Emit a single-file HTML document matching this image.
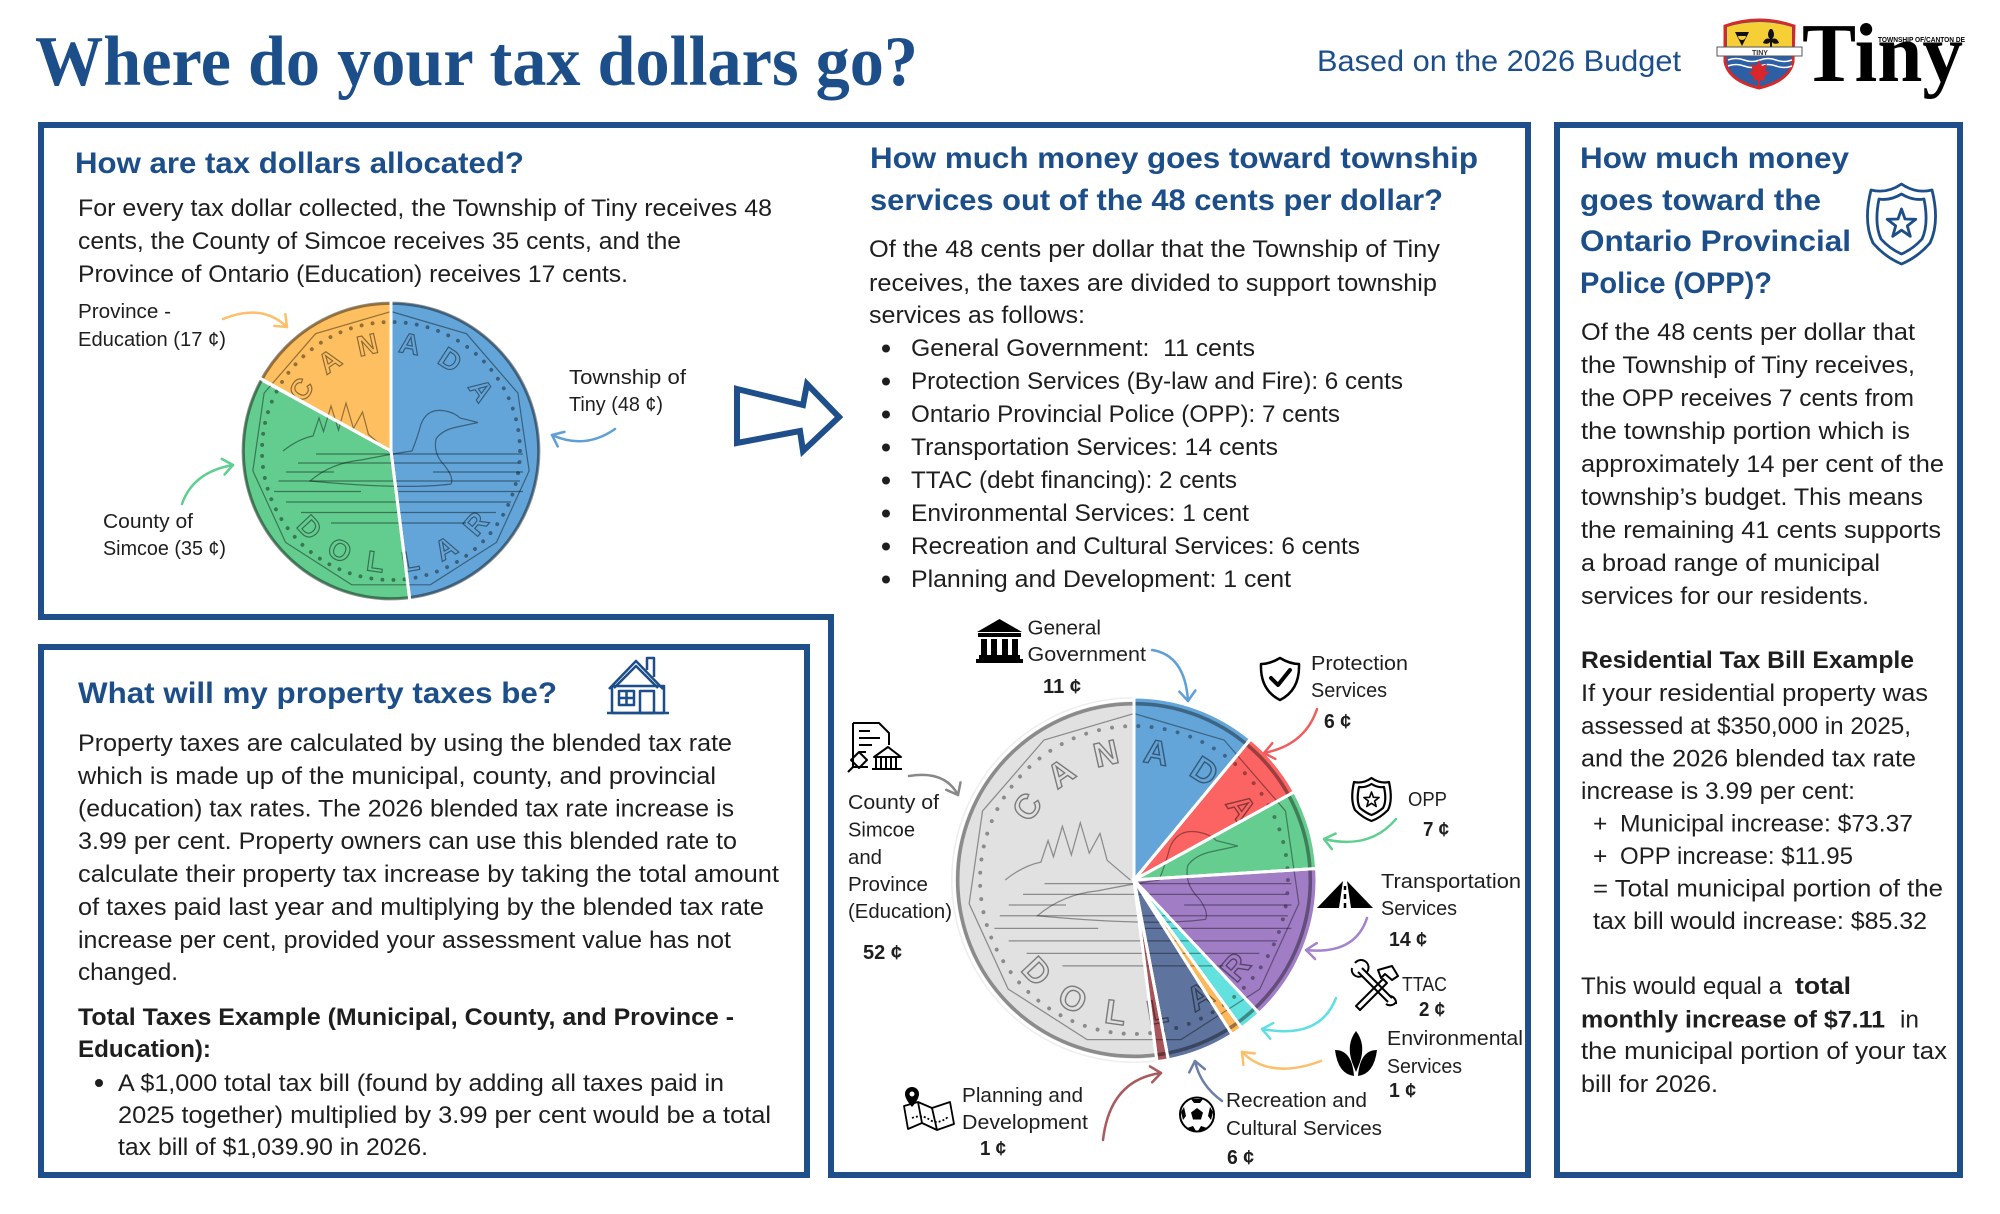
<!DOCTYPE html>
<html><head><meta charset="utf-8"><style>
html,body{margin:0;padding:0;background:#fff;}
svg{display:block;}
.b{font-family:"Liberation Sans",sans-serif;font-size:24.5px;fill:#1e1e1e;}
.bb{font-family:"Liberation Sans",sans-serif;font-size:24.5px;font-weight:bold;fill:#1e1e1e;}
.h{font-family:"Liberation Sans",sans-serif;font-size:29.5px;font-weight:bold;fill:#1c4e8a;}
.l{font-family:"Liberation Sans",sans-serif;font-size:20.5px;fill:#1e1e1e;}
.lb{font-family:"Liberation Sans",sans-serif;font-size:20.5px;font-weight:bold;fill:#1e1e1e;}
.cl{font-family:"Liberation Sans",sans-serif;font-size:19px;font-weight:bold;fill:none;stroke:#000;stroke-opacity:.45;stroke-width:.8;}
</style></head><body>
<svg width="2000" height="1214" viewBox="0 0 2000 1214" xmlns="http://www.w3.org/2000/svg">
<defs>
<marker id="m-blue" viewBox="-12 -12 24 24" markerWidth="24" markerHeight="24" markerUnits="userSpaceOnUse" orient="auto"><path d="M-10,-8 L0,0 L-10,8" fill="none" stroke="#5ea0d6" stroke-width="2.5" stroke-linecap="round" stroke-linejoin="round"/></marker>
<marker id="m-red" viewBox="-12 -12 24 24" markerWidth="24" markerHeight="24" markerUnits="userSpaceOnUse" orient="auto"><path d="M-10,-8 L0,0 L-10,8" fill="none" stroke="#f25c5c" stroke-width="2.5" stroke-linecap="round" stroke-linejoin="round"/></marker>
<marker id="m-green" viewBox="-12 -12 24 24" markerWidth="24" markerHeight="24" markerUnits="userSpaceOnUse" orient="auto"><path d="M-10,-8 L0,0 L-10,8" fill="none" stroke="#5fcf8f" stroke-width="2.5" stroke-linecap="round" stroke-linejoin="round"/></marker>
<marker id="m-purple" viewBox="-12 -12 24 24" markerWidth="24" markerHeight="24" markerUnits="userSpaceOnUse" orient="auto"><path d="M-10,-8 L0,0 L-10,8" fill="none" stroke="#a283cc" stroke-width="2.5" stroke-linecap="round" stroke-linejoin="round"/></marker>
<marker id="m-cyan" viewBox="-12 -12 24 24" markerWidth="24" markerHeight="24" markerUnits="userSpaceOnUse" orient="auto"><path d="M-10,-8 L0,0 L-10,8" fill="none" stroke="#5fdfe3" stroke-width="2.5" stroke-linecap="round" stroke-linejoin="round"/></marker>
<marker id="m-orange" viewBox="-12 -12 24 24" markerWidth="24" markerHeight="24" markerUnits="userSpaceOnUse" orient="auto"><path d="M-10,-8 L0,0 L-10,8" fill="none" stroke="#fdbf6a" stroke-width="2.5" stroke-linecap="round" stroke-linejoin="round"/></marker>
<marker id="m-navy" viewBox="-12 -12 24 24" markerWidth="24" markerHeight="24" markerUnits="userSpaceOnUse" orient="auto"><path d="M-10,-8 L0,0 L-10,8" fill="none" stroke="#6c7fa8" stroke-width="2.5" stroke-linecap="round" stroke-linejoin="round"/></marker>
<marker id="m-dred" viewBox="-12 -12 24 24" markerWidth="24" markerHeight="24" markerUnits="userSpaceOnUse" orient="auto"><path d="M-10,-8 L0,0 L-10,8" fill="none" stroke="#a85a5e" stroke-width="2.5" stroke-linecap="round" stroke-linejoin="round"/></marker>
<marker id="m-gray" viewBox="-12 -12 24 24" markerWidth="24" markerHeight="24" markerUnits="userSpaceOnUse" orient="auto"><path d="M-10,-8 L0,0 L-10,8" fill="none" stroke="#888" stroke-width="2.5" stroke-linecap="round" stroke-linejoin="round"/></marker>
<clipPath id="c1"><circle cx="391" cy="451" r="150"/></clipPath>
<clipPath id="c2"><circle cx="1134" cy="880" r="183"/></clipPath>
</defs>

<!-- TITLE -->
<text x="35" y="85" textLength="883" lengthAdjust="spacingAndGlyphs" style="font-family:'Liberation Serif',serif;font-size:71px;font-weight:bold;fill:#1c4e8a;">Where do your tax dollars go?</text>
<text x="1317" y="71" textLength="364" lengthAdjust="spacingAndGlyphs" style="font-family:'Liberation Sans',sans-serif;font-size:29.5px;fill:#1c4e8a;">Based on the 2026 Budget</text>

<!-- Crest -->
<g>
<path d="M1725,26 Q1759,14 1794,26 L1793,62 Q1789,81 1759,88 Q1729,81 1725,62 Z" fill="#2c5fa3" stroke="#d42a2a" stroke-width="3"/>
<path d="M1727,27 Q1759,17 1792,27 L1792,50 L1727,50 Z" fill="#f5cf35"/>
<path d="M1735,32 L1749,32 L1742,46 Z M1738,36 a4,4 0 1 0 8,0" fill="#111"/>
<path d="M1772,29 q4,6 0,10 q5,-2 7,4 q-5,2 -7,-1 l0,7 l-2,0 l0,-7 q-2,3 -7,1 q2,-6 7,-4 q-4,-4 0,-10z" fill="#111"/>
<rect x="1717" y="47" width="85" height="9" fill="#fff" stroke="#555" stroke-width="1"/>
<text x="1752" y="55" style="font-family:'Liberation Sans',sans-serif;font-size:7px;font-weight:bold;fill:#333;">TINY</text>
<path d="M1728,60 q8,-3 16,0 t16,0 t16,0 t16,0 M1728,66 q8,-3 16,0 t16,0 t16,0 t16,0" stroke="#fff" stroke-width="1.5" fill="none"/>
<path d="M1759,60 l3,6 l5,-2 l-2,7 l5,1 l-6,5 l1,4 l-5,-1 l0,6 l-2,0 l0,-6 l-5,1 l1,-4 l-6,-5 l5,-1 l-2,-7 l5,2 z" fill="#d8262a"/>
</g>
<text x="1802" y="81" textLength="161" lengthAdjust="spacingAndGlyphs" style="font-family:'Liberation Serif',serif;font-size:84px;font-weight:bold;fill:#000;">Tiny</text>
<text x="1878" y="42" textLength="87" lengthAdjust="spacingAndGlyphs" style="font-family:'Liberation Sans',sans-serif;font-size:7px;font-weight:bold;fill:#000;">TOWNSHIP OF/CANTON DE</text>

<!-- BORDERS -->
<g fill="none" stroke="#1e4f8b" stroke-width="6" stroke-linejoin="miter">
<path d="M41,125 H1528 V1175 H831 V617 H41 Z"/>
<rect x="41" y="647" width="766" height="528"/>
<rect x="1557" y="125" width="403" height="1050"/>
</g>

<!-- TOP-LEFT BOX -->
<text class="h" x="75" y="173" textLength="449" lengthAdjust="spacingAndGlyphs">How are tax dollars allocated?</text>
<text class="b" x="78" y="216" textLength="694" lengthAdjust="spacingAndGlyphs">For every tax dollar collected, the Township of Tiny receives 48</text>
<text class="b" x="78" y="249" textLength="603" lengthAdjust="spacingAndGlyphs">cents, the County of Simcoe receives 35 cents, and the</text>
<text class="b" x="78" y="282" textLength="550" lengthAdjust="spacingAndGlyphs">Province of Ontario (Education) receives 17 cents.</text>
<text class="l" x="78" y="318" textLength="93" lengthAdjust="spacingAndGlyphs">Province -</text>
<text class="l" x="78" y="346" textLength="148" lengthAdjust="spacingAndGlyphs">Education (17 ¢)</text>
<text class="l" x="569" y="384" textLength="117" lengthAdjust="spacingAndGlyphs">Township of</text>
<text class="l" x="569" y="411" textLength="94" lengthAdjust="spacingAndGlyphs">Tiny (48 ¢)</text>
<text class="l" x="103" y="528" textLength="90" lengthAdjust="spacingAndGlyphs">County of</text>
<text class="l" x="103" y="555" textLength="123" lengthAdjust="spacingAndGlyphs">Simcoe (35 ¢)</text>

<!-- top coin -->
<g stroke="#fff" stroke-width="3">
<path d="M391,451 L391,301 A150,150 0 0 1 409.8,599.8 Z" fill="#63a5d9"/>
<path d="M391,451 L409.8,599.8 A150,150 0 0 1 259.6,378.7 Z" fill="#63cd8f"/>
<path d="M391,451 L259.6,378.7 A150,150 0 0 1 391,301 Z" fill="#fdbf60"/>
</g>
<g clip-path="url(#c1)">
<g transform="translate(391,451) scale(1.5)">
<g fill="none" stroke="#000" stroke-opacity=".42" stroke-width=".8">
<circle r="98.5" stroke-width="2.2"/>
<polygon points="0,-93 50.3,-78.2 84.6,-38.6 92.1,13.2 70.3,60.9 26.2,89.2 -26.2,89.2 -70.3,60.9 -92.1,13.2 -84.6,-38.6 -50.3,-78.2"/>
<circle r="86" stroke-width="2.6" stroke-dasharray="0.01 7.4" stroke-linecap="round"/>
<path d="M-50,2 H88 M-62,8 H85 M-70,14 H-38 M28,14 H88 M-75,20 H86 M-78,27 H-20 M5,27 H88 M-70,34 H80 M-60,41 H70 M-40,48 H50"/>
<path d="M-72,0 Q-62,-8 -52,-10 L-48,-22 L-45,-13 L-40,-30 L-35,-14 L-30,-32 L-25,-15 L-19,-26 L-15,-11 Q-8,-5 -2,0"/>
<path d="M-54,20 Q-40,8 -20,6 Q0,2 14,0 Q18,-10 20,-18 Q24,-28 34,-27 Q42,-26 46,-22 L58,-19 L44,-16 Q34,-14 30,-8 Q28,2 36,10 Q42,18 40,22 Q10,26 -54,20 Z"/>
</g>
<text class="cl" text-anchor="middle" dominant-baseline="central" transform="translate(-59.4,-40.7) rotate(-55.6)">C</text>
<text class="cl" text-anchor="middle" dominant-baseline="central" transform="translate(-40.7,-59.4) rotate(-34.4)">A</text>
<text class="cl" text-anchor="middle" dominant-baseline="central" transform="translate(-15.6,-70.3) rotate(-12.5)">N</text>
<text class="cl" text-anchor="middle" dominant-baseline="central" transform="translate(12.5,-70.9) rotate(10)">A</text>
<text class="cl" text-anchor="middle" dominant-baseline="central" transform="translate(39.2,-60.4) rotate(33)">D</text>
<text class="cl" text-anchor="middle" dominant-baseline="central" transform="translate(59.7,-40.3) rotate(56)">A</text>
<text class="cl" text-anchor="middle" dominant-baseline="central" transform="translate(-54.6,51.3) rotate(46.8)">D</text>
<text class="cl" text-anchor="middle" dominant-baseline="central" transform="translate(-34.4,66.6) rotate(27.3)">O</text>
<text class="cl" text-anchor="middle" dominant-baseline="central" transform="translate(-10.4,74.3) rotate(8)">L</text>
<text class="cl" text-anchor="middle" dominant-baseline="central" transform="translate(13,73.9) rotate(-10)">L</text>
<text class="cl" text-anchor="middle" dominant-baseline="central" transform="translate(36.8,65.3) rotate(-29.4)">A</text>
<text class="cl" text-anchor="middle" dominant-baseline="central" transform="translate(56.9,48.8) rotate(-49.4)">R</text>
</g>
</g>
<g fill="none" stroke="#fff" stroke-width="3">
<path d="M391,451 L391,299 M391,451 L410,602 M391,451 L258,377"/>
</g>
<!-- top arrows -->
<g fill="none" stroke-width="2.5" stroke-linecap="round">
<path d="M223,319 Q262,303 287,327" stroke="#fdbf6a" marker-end="url(#m-orange)"/>
<path d="M615,429 Q585,450 552,435" stroke="#5ea0d6" marker-end="url(#m-blue)"/>
<path d="M182,504 Q193,472 233,465" stroke="#5fcf8f" marker-end="url(#m-green)"/>
</g>

<!-- big hollow arrow -->
<path d="M737,389 L803,405 L807,384 L839,417 L803,451 L800,431 L737,443 Z" fill="#fff" stroke="#1e4f8b" stroke-width="6" stroke-linejoin="miter"/>

<!-- LOWER-LEFT BOX -->
<text class="h" x="78" y="703" textLength="479" lengthAdjust="spacingAndGlyphs">What will my property taxes be?</text>
<g fill="none" stroke="#1c4e8a" stroke-width="2.5" stroke-linejoin="round">
<path d="M609,689 L636,661 L663,689"/>
<path d="M614,688 L636,666 L658,688"/>
<path d="M647,670 V658 H654 V677"/>
<rect x="612" y="686" width="52" height="27"/>
<path d="M607,713 H669"/>
<rect x="619" y="691" width="15" height="14"/>
<path d="M626.5,691 V705 M619,698 H634"/>
<rect x="640" y="691" width="14" height="22"/>
</g>
<text class="b" x="78" y="751" textLength="654" lengthAdjust="spacingAndGlyphs">Property taxes are calculated by using the blended tax rate</text>
<text class="b" x="78" y="784" textLength="638" lengthAdjust="spacingAndGlyphs">which is made up of the municipal, county, and provincial</text>
<text class="b" x="78" y="816.5" textLength="656" lengthAdjust="spacingAndGlyphs">(education) tax rates. The 2026 blended tax rate increase is</text>
<text class="b" x="78" y="849" textLength="659" lengthAdjust="spacingAndGlyphs">3.99 per cent. Property owners can use this blended rate to</text>
<text class="b" x="78" y="882" textLength="701" lengthAdjust="spacingAndGlyphs">calculate their property tax increase by taking the total amount</text>
<text class="b" x="78" y="915" textLength="686" lengthAdjust="spacingAndGlyphs">of taxes paid last year and multiplying by the blended tax rate</text>
<text class="b" x="78" y="948" textLength="653" lengthAdjust="spacingAndGlyphs">increase per cent, provided your assessment value has not</text>
<text class="b" x="78" y="980" textLength="100" lengthAdjust="spacingAndGlyphs">changed.</text>
<text class="bb" x="78" y="1025" textLength="656" lengthAdjust="spacingAndGlyphs">Total Taxes Example (Municipal, County, and Province -</text>
<text class="bb" x="78" y="1057" textLength="133" lengthAdjust="spacingAndGlyphs">Education):</text>
<circle cx="99" cy="1083" r="4" fill="#1e1e1e"/>
<text class="b" x="118" y="1091" textLength="606" lengthAdjust="spacingAndGlyphs">A $1,000 total tax bill (found by adding all taxes paid in</text>
<text class="b" x="118" y="1123" textLength="653" lengthAdjust="spacingAndGlyphs">2025 together) multiplied by 3.99 per cent would be a total</text>
<text class="b" x="118" y="1155" textLength="310" lengthAdjust="spacingAndGlyphs">tax bill of $1,039.90 in 2026.</text>

<!-- MIDDLE -->
<text class="h" x="870" y="168" textLength="608" lengthAdjust="spacingAndGlyphs">How much money goes toward township</text>
<text class="h" x="870" y="210" textLength="573" lengthAdjust="spacingAndGlyphs">services out of the 48 cents per dollar?</text>
<text class="b" x="869" y="257" textLength="571" lengthAdjust="spacingAndGlyphs">Of the 48 cents per dollar that the Township of Tiny</text>
<text class="b" x="869" y="291" textLength="568" lengthAdjust="spacingAndGlyphs">receives, the taxes are divided to support township</text>
<text class="b" x="869" y="323" textLength="216" lengthAdjust="spacingAndGlyphs">services as follows:</text>
<g fill="#1e1e1e">
<circle cx="886" cy="348.5" r="4"/><circle cx="886" cy="381.5" r="4"/><circle cx="886" cy="414.5" r="4"/><circle cx="886" cy="447.5" r="4"/>
<circle cx="886" cy="480.5" r="4"/><circle cx="886" cy="513.5" r="4"/><circle cx="886" cy="546.5" r="4"/><circle cx="886" cy="579.5" r="4"/>
</g>
<text class="b" x="911" y="356" textLength="344" lengthAdjust="spacingAndGlyphs" xml:space="preserve">General Government:  11 cents</text>
<text class="b" x="911" y="389" textLength="492" lengthAdjust="spacingAndGlyphs">Protection Services (By-law and Fire): 6 cents</text>
<text class="b" x="911" y="422" textLength="429" lengthAdjust="spacingAndGlyphs">Ontario Provincial Police (OPP): 7 cents</text>
<text class="b" x="911" y="455" textLength="367" lengthAdjust="spacingAndGlyphs">Transportation Services: 14 cents</text>
<text class="b" x="911" y="488" textLength="326" lengthAdjust="spacingAndGlyphs">TTAC (debt financing): 2 cents</text>
<text class="b" x="911" y="521" textLength="338" lengthAdjust="spacingAndGlyphs">Environmental Services: 1 cent</text>
<text class="b" x="911" y="554" textLength="449" lengthAdjust="spacingAndGlyphs">Recreation and Cultural Services: 6 cents</text>
<text class="b" x="911" y="587" textLength="380" lengthAdjust="spacingAndGlyphs">Planning and Development: 1 cent</text>

<!-- middle coin -->
<circle cx="1134" cy="880" r="183" fill="#eeeeee"/>
<g stroke="#fff" stroke-width="3">
<path d="M1134,880 L1156.5,1058.6 A180,180 0 1 1 1134,700 Z" fill="#e1e1e1"/>
<path d="M1134,880 L1134,697 A183,183 0 0 1 1250.6,739 Z" fill="#63a5d9"/>
<path d="M1134,880 L1250.6,739 A183,183 0 0 1 1294.4,791.8 Z" fill="#fc6464"/>
<path d="M1134,880 L1294.4,791.8 A183,183 0 0 1 1316.6,868.5 Z" fill="#64cd8f"/>
<path d="M1134,880 L1316.6,868.5 A183,183 0 0 1 1259.3,1013.4 Z" fill="#a17dc6"/>
<path d="M1134,880 L1259.3,1013.4 A183,183 0 0 1 1241.6,1028 Z" fill="#62e1de"/>
<path d="M1134,880 L1241.6,1028 A183,183 0 0 1 1232.1,1034.5 Z" fill="#fcb85b"/>
<path d="M1134,880 L1232.1,1034.5 A183,183 0 0 1 1168.3,1059.8 Z" fill="#5e739d"/>
<path d="M1134,880 L1168.3,1059.8 A183,183 0 0 1 1156.9,1061.6 Z" fill="#a8545a"/>
</g>
<g clip-path="url(#c2)">
<g transform="translate(1134,880) scale(1.79)">
<g fill="none" stroke="#000" stroke-opacity=".38" stroke-width=".7">
<circle r="98.5" stroke-width="2"/>
<polygon points="0,-93 50.3,-78.2 84.6,-38.6 92.1,13.2 70.3,60.9 26.2,89.2 -26.2,89.2 -70.3,60.9 -92.1,13.2 -84.6,-38.6 -50.3,-78.2"/>
<circle r="86" stroke-width="2.2" stroke-dasharray="0.01 7.4" stroke-linecap="round"/>
<path d="M-50,2 H88 M-62,8 H85 M-70,14 H-38 M28,14 H88 M-75,20 H86 M-78,27 H-20 M5,27 H88 M-70,34 H80 M-60,41 H70 M-40,48 H50"/>
<path d="M-72,0 Q-62,-8 -52,-10 L-48,-22 L-45,-13 L-40,-30 L-35,-14 L-30,-32 L-25,-15 L-19,-26 L-15,-11 Q-8,-5 -2,0"/>
<path d="M-54,20 Q-40,8 -20,6 Q0,2 14,0 Q18,-10 20,-18 Q24,-28 34,-27 Q42,-26 46,-22 L58,-19 L44,-16 Q34,-14 30,-8 Q28,2 36,10 Q42,18 40,22 Q10,26 -54,20 Z"/>
</g>
<text class="cl" text-anchor="middle" dominant-baseline="central" transform="translate(-59.4,-40.7) rotate(-55.6)">C</text>
<text class="cl" text-anchor="middle" dominant-baseline="central" transform="translate(-40.7,-59.4) rotate(-34.4)">A</text>
<text class="cl" text-anchor="middle" dominant-baseline="central" transform="translate(-15.6,-70.3) rotate(-12.5)">N</text>
<text class="cl" text-anchor="middle" dominant-baseline="central" transform="translate(12.5,-70.9) rotate(10)">A</text>
<text class="cl" text-anchor="middle" dominant-baseline="central" transform="translate(39.2,-60.4) rotate(33)">D</text>
<text class="cl" text-anchor="middle" dominant-baseline="central" transform="translate(59.7,-40.3) rotate(56)">A</text>
<text class="cl" text-anchor="middle" dominant-baseline="central" transform="translate(-54.6,51.3) rotate(46.8)">D</text>
<text class="cl" text-anchor="middle" dominant-baseline="central" transform="translate(-34.4,66.6) rotate(27.3)">O</text>
<text class="cl" text-anchor="middle" dominant-baseline="central" transform="translate(-10.4,74.3) rotate(8)">L</text>
<text class="cl" text-anchor="middle" dominant-baseline="central" transform="translate(13,73.9) rotate(-10)">L</text>
<text class="cl" text-anchor="middle" dominant-baseline="central" transform="translate(36.8,65.3) rotate(-29.4)">A</text>
<text class="cl" text-anchor="middle" dominant-baseline="central" transform="translate(56.9,48.8) rotate(-49.4)">R</text>
</g>
</g>
<g fill="none" stroke="#fff" stroke-width="3">
<path d="M1134,880 L1134,695 M1134,880 L1251.9,737.5 M1134,880 L1296,791 M1134,880 L1318.6,868.4 M1134,880 L1260.7,1014.9 M1134,880 L1242.8,1029.6 M1134,880 L1233.2,1036.2 M1134,880 L1168.7,1061.8 M1134,880 L1157.2,1063.6"/>
</g>

<!-- middle labels -->
<text class="l" x="1027.5" y="634.5" textLength="73.5" lengthAdjust="spacingAndGlyphs">General</text>
<text class="l" x="1027.5" y="661" textLength="118.5" lengthAdjust="spacingAndGlyphs">Government</text>
<text class="lb" x="1043" y="693" textLength="38" lengthAdjust="spacingAndGlyphs">11 ¢</text>
<text class="l" x="1311" y="670" textLength="97" lengthAdjust="spacingAndGlyphs">Protection</text>
<text class="l" x="1311" y="697" textLength="76" lengthAdjust="spacingAndGlyphs">Services</text>
<text class="lb" x="1324" y="728" textLength="27" lengthAdjust="spacingAndGlyphs">6 ¢</text>
<text class="l" x="1408" y="806" textLength="39" lengthAdjust="spacingAndGlyphs">OPP</text>
<text class="lb" x="1423" y="836" textLength="26" lengthAdjust="spacingAndGlyphs">7 ¢</text>
<text class="l" x="1381" y="888" textLength="140" lengthAdjust="spacingAndGlyphs">Transportation</text>
<text class="l" x="1381" y="915" textLength="76" lengthAdjust="spacingAndGlyphs">Services</text>
<text class="lb" x="1389" y="946" textLength="38" lengthAdjust="spacingAndGlyphs">14 ¢</text>
<text class="l" x="1402" y="991" textLength="45" lengthAdjust="spacingAndGlyphs">TTAC</text>
<text class="lb" x="1419" y="1016" textLength="26" lengthAdjust="spacingAndGlyphs">2 ¢</text>
<text class="l" x="1387" y="1045" textLength="136" lengthAdjust="spacingAndGlyphs">Environmental</text>
<text class="l" x="1387" y="1073" textLength="75" lengthAdjust="spacingAndGlyphs">Services</text>
<text class="lb" x="1389" y="1097" textLength="27" lengthAdjust="spacingAndGlyphs">1 ¢</text>
<text class="l" x="1226" y="1107" textLength="141" lengthAdjust="spacingAndGlyphs">Recreation and</text>
<text class="l" x="1226" y="1135" textLength="156" lengthAdjust="spacingAndGlyphs">Cultural Services</text>
<text class="lb" x="1227" y="1164" textLength="27" lengthAdjust="spacingAndGlyphs">6 ¢</text>
<text class="l" x="962" y="1102" textLength="121" lengthAdjust="spacingAndGlyphs">Planning and</text>
<text class="l" x="962" y="1129" textLength="126" lengthAdjust="spacingAndGlyphs">Development</text>
<text class="lb" x="980" y="1155" textLength="26" lengthAdjust="spacingAndGlyphs">1 ¢</text>
<text class="l" x="848" y="809" textLength="91" lengthAdjust="spacingAndGlyphs">County of</text>
<text class="l" x="848" y="836.5" textLength="67" lengthAdjust="spacingAndGlyphs">Simcoe</text>
<text class="l" x="848" y="864" textLength="34" lengthAdjust="spacingAndGlyphs">and</text>
<text class="l" x="848" y="891" textLength="80" lengthAdjust="spacingAndGlyphs">Province</text>
<text class="l" x="848" y="918" textLength="104" lengthAdjust="spacingAndGlyphs">(Education)</text>
<text class="lb" x="863" y="959" textLength="39" lengthAdjust="spacingAndGlyphs">52 ¢</text>

<!-- middle arrows -->
<g fill="none" stroke-width="2.5" stroke-linecap="round">
<path d="M1152,650 Q1185,655 1188,701" stroke="#5ea0d6" marker-end="url(#m-blue)"/>
<path d="M1317,709 Q1305,745 1264,753" stroke="#f25c5c" marker-end="url(#m-red)"/>
<path d="M1396,819 Q1370,850 1324,839" stroke="#5fcf8f" marker-end="url(#m-green)"/>
<path d="M1367,918 Q1355,955 1306,950" stroke="#a283cc" marker-end="url(#m-purple)"/>
<path d="M1336,998 Q1320,1040 1262,1029" stroke="#5fdfe3" marker-end="url(#m-cyan)"/>
<path d="M1321,1061 Q1270,1080 1242,1052" stroke="#fdbf6a" marker-end="url(#m-orange)"/>
<path d="M1222,1101 Q1200,1085 1195,1061" stroke="#6c7fa8" marker-end="url(#m-navy)"/>
<path d="M1103,1140 Q1110,1080 1161,1073" stroke="#a85a5e" marker-end="url(#m-dred)"/>
<path d="M909,776 Q945,770 958,795" stroke="#888" marker-end="url(#m-gray)"/>
</g>

<!-- icons -->
<!-- bank -->
<g fill="#000">
<polygon points="977,632 999.5,619 1022,632"/>
<rect x="978" y="633" width="43" height="4"/>
<rect x="981" y="639" width="6" height="16"/><rect x="991" y="639" width="6" height="16"/><rect x="1002" y="639" width="6" height="16"/><rect x="1012" y="639" width="6" height="16"/>
<rect x="979" y="655" width="41" height="4"/>
<rect x="976" y="659" width="47" height="4"/>
</g>
<!-- shield check -->
<path d="M1280,658 Q1290,664 1299,664 Q1300,690 1280,700 Q1260,690 1261,664 Q1270,664 1280,658 Z" fill="none" stroke="#000" stroke-width="2.5" stroke-linejoin="round"/>
<path d="M1271,678 L1278,685 L1290,670" fill="none" stroke="#000" stroke-width="4" stroke-linecap="round" stroke-linejoin="round"/>
<!-- opp badge -->
<g fill="none" stroke="#000" stroke-width="2.2" stroke-linejoin="round">
<path d="M1371.5,778 Q1380,784 1389,782 Q1393,800 1388,810 Q1380,818 1371.5,821 Q1363,818 1355,810 Q1350,800 1354,782 Q1363,784 1371.5,778 Z"/>
<path d="M1371.5,784 Q1378,788 1384,787 Q1387,801 1383,808 Q1377,813 1371.5,815 Q1366,813 1360,808 Q1356,801 1359,787 Q1365,788 1371.5,784 Z"/>
<path d="M1371.5,792 L1373.4,797.3 L1379.1,797.5 L1374.6,801 L1376.2,806.5 L1371.5,803.3 L1366.8,806.5 L1368.4,801 L1363.9,797.5 L1369.6,797.3 Z" stroke-width="1.6"/>
</g>
<!-- road -->
<path d="M1343,881 L1317,908 L1339,908 Z M1347,881 L1373,908 L1351,908 Z" fill="#000"/>
<path d="M1345,886 V890 M1345,894 V899 M1345,903 V908" stroke="#000" stroke-width="2.5"/>
<!-- tools -->
<g fill="none" stroke="#000" stroke-width="2" stroke-linejoin="round">
<path d="M1356,1006 L1383,979 L1387,983 L1360,1010 Z"/>
<path d="M1378,970 L1392,966 L1398,976 L1392,980 L1385,974 L1381,978 Z"/>
<path d="M1358,972 L1388,1002"/>
<path d="M1362,968 L1392,998"/>
<path d="M1352,968 a7,7 0 0 0 10,8 M1355,963 a7,7 0 0 1 12,9"/>
<path d="M1386,1004 a7,7 0 0 0 10,-2 M1390,996 a7,7 0 0 1 6,8"/>
</g>
<!-- leaves -->
<g fill="#000">
<path d="M1356,1031 Q1366,1044 1360,1062 L1356,1072 L1352,1062 Q1346,1044 1356,1031 Z"/>
<path d="M1335,1050 Q1352,1050 1354,1076 Q1338,1074 1335,1050 Z"/>
<path d="M1377,1050 Q1360,1050 1358,1076 Q1374,1074 1377,1050 Z"/>
</g>
<!-- soccer ball -->
<circle cx="1197" cy="1114.5" r="17" fill="#fff" stroke="#000" stroke-width="2"/>
<g fill="#000">
<polygon points="1197,1108 1203,1112.5 1201,1119.5 1193,1119.5 1191,1112.5"/>
<path d="M1191,1099 L1203,1099 L1200,1103 L1194,1103 Z"/>
<path d="M1181,1112 L1184,1107 L1186,1116 L1183,1120 Z"/>
<path d="M1213,1112 L1210,1107 L1208,1116 L1211,1120 Z"/>
<path d="M1187,1128 L1193,1126 L1196,1131 L1190,1131 Z"/>
<path d="M1207,1128 L1201,1126 L1198,1131 L1204,1131 Z"/>
</g>
<!-- map -->
<g fill="none" stroke="#000" stroke-width="1.8" stroke-linejoin="round">
<path d="M904,1106 L918,1102 L932,1108 L950,1102 L954,1124 L937,1130 L922,1123 L908,1129 Z"/>
<path d="M918,1102 L922,1123 M932,1108 L937,1130"/>
<path d="M912,1118 q10,-4 18,2 q8,5 18,-3" stroke-dasharray="2 2"/>
</g>
<path d="M912,1087 a7,7 0 0 1 7,7 q0,5 -7,13 q-7,-8 -7,-13 a7,7 0 0 1 7,-7 Z" fill="#000"/>
<circle cx="912" cy="1094" r="2.5" fill="#fff"/>
<!-- document / gavel -->
<g fill="none" stroke="#000" stroke-width="2" stroke-linejoin="round">
<path d="M853,723 H879 L889,733 V745 M853,723 V767 H868"/>
<path d="M859,731 H870 M859,738 H880 M859,745 H872 M859,752 H866"/>
<path d="M874,757 L888,747 L901,757 Z"/>
<path d="M876,758 V768 M881,758 V768 M886,758 V768 M891,758 V768 M896,758 V768"/>
<path d="M872,769 H902"/>
<path d="M851,760 L859,752 L867,760 L859,768 Z"/>
<path d="M854,766 L848,772"/>
</g>

<!-- RIGHT PANEL -->
<text class="h" x="1580" y="168" textLength="269" lengthAdjust="spacingAndGlyphs">How much money</text>
<text class="h" x="1580" y="210" textLength="241" lengthAdjust="spacingAndGlyphs">goes toward the</text>
<text class="h" x="1580" y="251" textLength="271" lengthAdjust="spacingAndGlyphs">Ontario Provincial</text>
<text class="h" x="1580" y="293" textLength="192" lengthAdjust="spacingAndGlyphs">Police (OPP)?</text>
<g fill="none" stroke="#1c4e8a" stroke-width="2.8" stroke-linejoin="round">
<path d="M1901.5,184 Q1916,194 1932,190 Q1940,222 1930,243 Q1918,257 1901.5,264 Q1885,257 1873,243 Q1863,222 1871,190 Q1887,194 1901.5,184 Z"/>
<path d="M1901.5,194 Q1913,201 1924,199 Q1929,224 1922,239 Q1913,249 1901.5,254 Q1890,249 1881,239 Q1874,224 1879,199 Q1890,201 1901.5,194 Z"/>
<path d="M1901.5,209 L1905,219 L1915.8,219.3 L1907.3,225.9 L1910.3,236.3 L1901.5,230.2 L1892.7,236.3 L1895.7,225.9 L1887.2,219.3 L1898,219 Z"/>
</g>
<text class="b" x="1581" y="340" textLength="334" lengthAdjust="spacingAndGlyphs">Of the 48 cents per dollar that</text>
<text class="b" x="1581" y="373" textLength="334" lengthAdjust="spacingAndGlyphs">the Township of Tiny receives,</text>
<text class="b" x="1581" y="406" textLength="333" lengthAdjust="spacingAndGlyphs">the OPP receives 7 cents from</text>
<text class="b" x="1581" y="439" textLength="329" lengthAdjust="spacingAndGlyphs">the township portion which is</text>
<text class="b" x="1581" y="472" textLength="363" lengthAdjust="spacingAndGlyphs">approximately 14 per cent of the</text>
<text class="b" x="1581" y="505" textLength="342" lengthAdjust="spacingAndGlyphs">township’s budget. This means</text>
<text class="b" x="1581" y="538" textLength="360" lengthAdjust="spacingAndGlyphs">the remaining 41 cents supports</text>
<text class="b" x="1581" y="571" textLength="299" lengthAdjust="spacingAndGlyphs">a broad range of municipal</text>
<text class="b" x="1581" y="604" textLength="288" lengthAdjust="spacingAndGlyphs">services for our residents.</text>
<text class="bb" x="1581" y="668" textLength="333" lengthAdjust="spacingAndGlyphs">Residential Tax Bill Example</text>
<text class="b" x="1581" y="701" textLength="347" lengthAdjust="spacingAndGlyphs">If your residential property was</text>
<text class="b" x="1581" y="734" textLength="330" lengthAdjust="spacingAndGlyphs">assessed at $350,000 in 2025,</text>
<text class="b" x="1581" y="766.5" textLength="335" lengthAdjust="spacingAndGlyphs">and the 2026 blended tax rate</text>
<text class="b" x="1581" y="799" textLength="274" lengthAdjust="spacingAndGlyphs">increase is 3.99 per cent:</text>
<text class="b" x="1593" y="831.5">+</text>
<text class="b" x="1620" y="831.5" textLength="293" lengthAdjust="spacingAndGlyphs">Municipal increase: $73.37</text>
<text class="b" x="1593" y="864">+</text>
<text class="b" x="1620" y="864" textLength="233" lengthAdjust="spacingAndGlyphs">OPP increase: $11.95</text>
<text class="b" x="1593" y="896.6" textLength="350" lengthAdjust="spacingAndGlyphs">= Total municipal portion of the</text>
<text class="b" x="1593" y="929" textLength="334" lengthAdjust="spacingAndGlyphs">tax bill would increase: $85.32</text>
<text class="b" x="1581" y="994" textLength="201" lengthAdjust="spacingAndGlyphs">This would equal a</text>
<text class="bb" x="1795" y="994" textLength="56" lengthAdjust="spacingAndGlyphs">total</text>
<text class="bb" x="1581" y="1027.5" textLength="304" lengthAdjust="spacingAndGlyphs">monthly increase of $7.11</text>
<text class="b" x="1900" y="1027.5" textLength="19" lengthAdjust="spacingAndGlyphs">in</text>
<text class="b" x="1581" y="1059" textLength="366" lengthAdjust="spacingAndGlyphs">the municipal portion of your tax</text>
<text class="b" x="1581" y="1092" textLength="137" lengthAdjust="spacingAndGlyphs">bill for 2026.</text>
</svg>
</body></html>
